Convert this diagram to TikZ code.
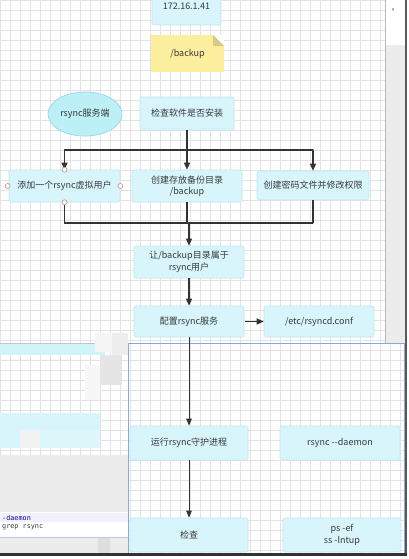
\documentclass[tikz,border=0pt]{standalone}
\usepackage{fontspec}
\setmainfont{Noto Sans CJK SC}
\newfontfamily\codefont{DejaVu Sans Mono}
\usetikzlibrary{arrows.meta,shapes.geometric}
\definecolor{boxfill}{HTML}{D7F5FA}
\definecolor{boxline}{HTML}{BFE5EE}
\definecolor{ellfill}{HTML}{BDEFF7}
\definecolor{ellline}{HTML}{9ED9E6}
\definecolor{notey}{HTML}{FBEE9C}
\definecolor{foldc}{HTML}{D6CA86}
\definecolor{txt}{HTML}{3A3A3A}
\definecolor{conn}{HTML}{333333}
\definecolor{gridc}{HTML}{E3E3E3}
\definecolor{panel}{HTML}{ECECEC}
\definecolor{winblue}{HTML}{86A8DC}
\definecolor{handlec}{HTML}{C4907E}
\begin{document}
\begin{tikzpicture}[x=1pt,y=-1pt,
  box/.style={rectangle, draw=boxline, fill=boxfill, line width=0.6pt, rounded corners=1.5pt,
    inner sep=0pt, align=center, text=txt, font=\fontsize{9}{11.5}\selectfont},
  line/.style={draw=conn, line width=1.3pt},
  arr/.style={draw=conn, line width=1.3pt, -{Triangle[length=7pt,width=6pt]}},
  thinarr/.style={draw=conn, line width=0.9pt, -{Triangle[length=7pt,width=5.5pt]}},
  handle/.style={circle, draw=handlec, fill=white, line width=0.6pt, minimum size=5pt, inner sep=0pt},
  code/.style={inner sep=0pt, anchor=west, font=\codefont\fontsize{6.8}{8}\selectfont}]
\useasboundingbox (0,0) rectangle (409,559);
\clip (0,0) rectangle (409,559);
\fill[white] (0,0) rectangle (409,559);
% main grid
\draw[gridc, line width=0.5pt, step=10pt] (0,455) grid (385,0);
% right side bar
\fill[panel] (385,45) rectangle (405,559);
\draw[gray!55, line width=0.6pt] (385,0) -- (385,559);
\node[inner sep=0pt, font=\fontsize{6}{7}\selectfont, text=txt] (chev) at (393,10) {»};
\fill[black!65] (405,0) rectangle (407,559);

% top box (cut off)
\node[box, minimum width=69pt, minimum height=49pt] (srv) at (186.5,0.5) {backup\\172.16.1.41};
% note
\node[fill=notey, minimum width=73pt, minimum height=37pt, inner sep=0pt, text=txt,
  font=\fontsize{9}{11}\selectfont,
  path picture={
    \fill[white] (path picture bounding box.north east) -- ++(-11pt,0pt) -- ++(11pt,-11pt) -- cycle;
    \fill[foldc] (path picture bounding box.north east) ++(-11pt,0pt) -- ++(0pt,-11pt) -- ++(11pt,0pt) -- cycle;
  }] (note) at (187.5,53.5) {/backup};

% ellipse
\node[ellipse, draw=ellline, fill=ellfill, line width=0.8pt, minimum width=74pt, minimum height=44pt,
  inner sep=0pt, text=txt, font=\fontsize{9}{11}\selectfont] (rs) at (85,114) {rsync服务端};
\node[box, minimum width=94pt, minimum height=33pt] (chk) at (187,113.5) {检查软件是否安装};

\node[box, minimum width=111pt, minimum height=32pt] (b1) at (64.5,186) {添加一个rsync虚拟用户};
\node[box, minimum width=110pt, minimum height=32pt] (b2) at (187,186) {创建存放备份目录\\/backup};
\node[box, minimum width=112pt, minimum height=29pt] (b3) at (313,185.5) {创建密码文件并修改权限};
\node[box, minimum width=110pt, minimum height=32pt] (b4) at (189,262) {让/backup目录属于\\rsync用户};
\node[box, minimum width=110pt, minimum height=31pt] (b5) at (189,321.5) {配置rsync服务};
\node[box, minimum width=110pt, minimum height=31pt] (b6) at (319,321.5) {/etc/rsyncd.conf};

\coordinate (lv1) at (0,150);
\coordinate (lv2) at (0,223);
\draw[line] (chk.south) -- (chk.south |- lv1);
\draw[line, line cap=round] (b1.north |- lv1) -- (b3.north |- lv1);
\draw[arr] (b1.north |- lv1) -- (b1.north);
\draw[arr] (b2.north |- lv1) -- (b2.north);
\draw[arr] (b3.north |- lv1) -- (b3.north);
\draw[line] (b1.south) -- (b1.south |- lv2);
\draw[line] (b2.south) -- (b2.south |- lv2);
\draw[line] (b3.south) -- (b3.south |- lv2);
\draw[line, line cap=round] (b1.south |- lv2) -- (b3.south |- lv2);
\draw[arr] (b4.north |- lv2) -- (b4.north);
\draw[arr] (b4.south) -- (b5.north);
\draw[arr] ([xshift=1pt]b5.east) -- (b6.west);

% selection handles
\node[handle] (h1) at (b1.north) {};
\node[handle] (h2) at (b1.south) {};
\node[handle] (h3) at ([xshift=-1pt]b1.west) {};
\node[handle] (h4) at (b1.east) {};

% left lower panel (behind the window)
\draw[gray!45, line width=0.6pt] (0,343) -- (128,343);
\fill[ellfill!70] (0,344) rectangle (105,355);
\fill[boxfill] (0,413) rectangle (100,448);
\fill[black!5] (20,430) rectangle (40,448);
\fill[ellfill!50] (40,430) rectangle (100,448);
\fill[black!4] (95,333) rectangle (112,352);
\fill[black!10] (100,355) rectangle (122,385);
\fill[black!7] (112,333) rectangle (128,355);
\fill[black!3] (85,365) rectangle (100,400);
\fill[panel] (0,455) rectangle (128,512);
\fill[white] (0,512) rectangle (128,537);
\fill[blue!5] (0,513) rectangle (128,522);
\node[code, text=blue!60!black] (c1) at (2,517.5) {-daemon};
\node[code, text=txt] (c2) at (2,527.5) {grep rsync};
\fill[panel] (0,537) rectangle (128,553);
\fill[black!13] (98,537) rectangle (110,553);
\draw[winblue!60, line width=0.6pt] (0,537) -- (128,537);

% overlay window
\fill[white] (128,343) rectangle (404,553);
\draw[gridc, line width=0.5pt, step=10pt] (128,553) grid (404,343);
\draw[winblue, line width=1pt] (128,343) rectangle (404,553);

\node[box, minimum width=118pt, minimum height=34pt] (b7) at (189,443) {运行rsync守护进程};
\node[box, minimum width=120pt, minimum height=34pt] (b8) at (340,443) {rsync -{}-daemon};
\node[box, minimum width=118pt, minimum height=34pt] (b9) at (189,535) {检查};
\node[box, minimum width=118pt, minimum height=34pt] (b10) at (342,535) {ps -ef\\ss -lntup};

\draw[thinarr] (b5.south) -- (b7.north);
\draw[thinarr] (b7.south) -- (b9.north);

% bottom dark edge
\fill[black!80] (0,553) rectangle (407,556);
\fill[white] (0,556) rectangle (409,559);
\end{tikzpicture}
\end{document}
